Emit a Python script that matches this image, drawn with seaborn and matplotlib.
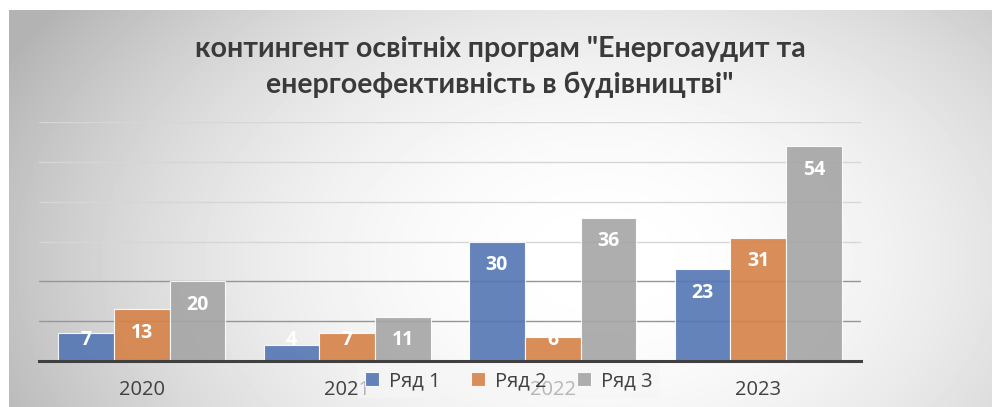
import numpy as np
import pandas as pd
import matplotlib
matplotlib.use("Agg")
import matplotlib.pyplot as plt
import seaborn as sns

# chart data
years = ["2020", "2021", "2022", "2023"]
series_names = ["Ряд 1", "Ряд 2", "Ряд 3"]
row1 = [7, 4, 30, 23]
row2 = [13, 7, 6, 31]
row3 = [20, 11, 36, 54]
title = 'контингент освітніх програм "Енергоаудит та\nенергоефективність в будівництві"'

colors = ["#4472C4", "#ED7D31", "#A5A5A5"]

df = pd.DataFrame({
    "year": years * 3,
    "series": [s for s in series_names for _ in years],
    "value": row1 + row2 + row3,
})

sns.set_theme(style="white")
plt.rcParams["font.family"] = ["Open Sans", "DejaVu Sans"]

W, H = 992, 407
fig = plt.figure(figsize=(W / 100, H / 100), dpi=100, facecolor="white")

# radial gray background panel
bg = fig.add_axes([9 / W, 0, 1 - 9 / W, 1 - 10 / H], zorder=-5)
xx, yy = np.meshgrid(np.arange(9, W), np.arange(10, H))
d = np.sqrt(((xx - 600) / 600) ** 2 + ((yy - 260) / 400) ** 2)
shade = (255 - 62 * np.clip(d, 0, 1.1) ** 2) / 255
bg.imshow(shade, cmap="gray", vmin=0, vmax=1, aspect="auto", interpolation="bilinear")
bg.axis("off")

ax = fig.add_axes([39 / W, 1 - 361 / H, (861 - 39) / W, (361 - 122) / H])
ax.patch.set_alpha(0)

sns.barplot(data=df, x="year", y="value", hue="series", palette=colors,
            width=0.815, alpha=0.9, edgecolor="white", linewidth=0.8,
            ax=ax, zorder=3)

ax.set_ylim(0, 60)
ax.set_yticks(range(0, 61, 10))
ax.set_yticklabels([])
ax.tick_params(axis="y", length=0)
ax.tick_params(axis="x", length=0, labelsize=14.5, labelcolor="#404040", pad=14)
ax.yaxis.grid(True, linewidth=1.0)
for val, gl in zip(ax.get_yticks(), ax.get_ygridlines()):
    gl.set_color("#969696" if val <= 20 else "#d6d6d6")
    gl.set_zorder(1)
ax.set_axisbelow(False)
ax.set_xlabel("")
ax.set_ylabel("")
for s in ["left", "right", "top"]:
    ax.spines[s].set_visible(False)
ax.spines["bottom"].set_color("#404040")
ax.spines["bottom"].set_linewidth(2.2)
ax.spines["bottom"].set_zorder(4)

# value labels, inside end
for cont in ax.containers:
    for bar in cont:
        v = bar.get_height()
        cx = bar.get_x() + bar.get_width() / 2
        ax.text(cx, max(v - 6, 5.3), f"{v:g}", ha="center", va="center",
                color="white", fontsize=14, fontweight="bold", zorder=5)

handles, labels = ax.get_legend_handles_labels()
ax.get_legend().remove()
leg = fig.legend(handles, labels, ncol=3, loc="center", bbox_to_anchor=(509 / W, 1 - 381 / H),
                 fontsize=14.5, frameon=True, fancybox=False, framealpha=0.65,
                 handlelength=0.7, handleheight=0.7, handletextpad=0.5, columnspacing=1.5,
                 borderpad=0.35)
leg.get_frame().set_facecolor("#f6f6f6")
leg.get_frame().set_edgecolor("none")
for t in leg.get_texts():
    t.set_color("#404040")

fig.text(500 / W, 1 - 67 / H, title, ha="center", va="center", fontsize=20.5,
         fontweight="bold", color="#3a3a3a", linespacing=1.45,
         family=["Lato", "DejaVu Sans"])

fig.savefig("out.png", dpi=100)
